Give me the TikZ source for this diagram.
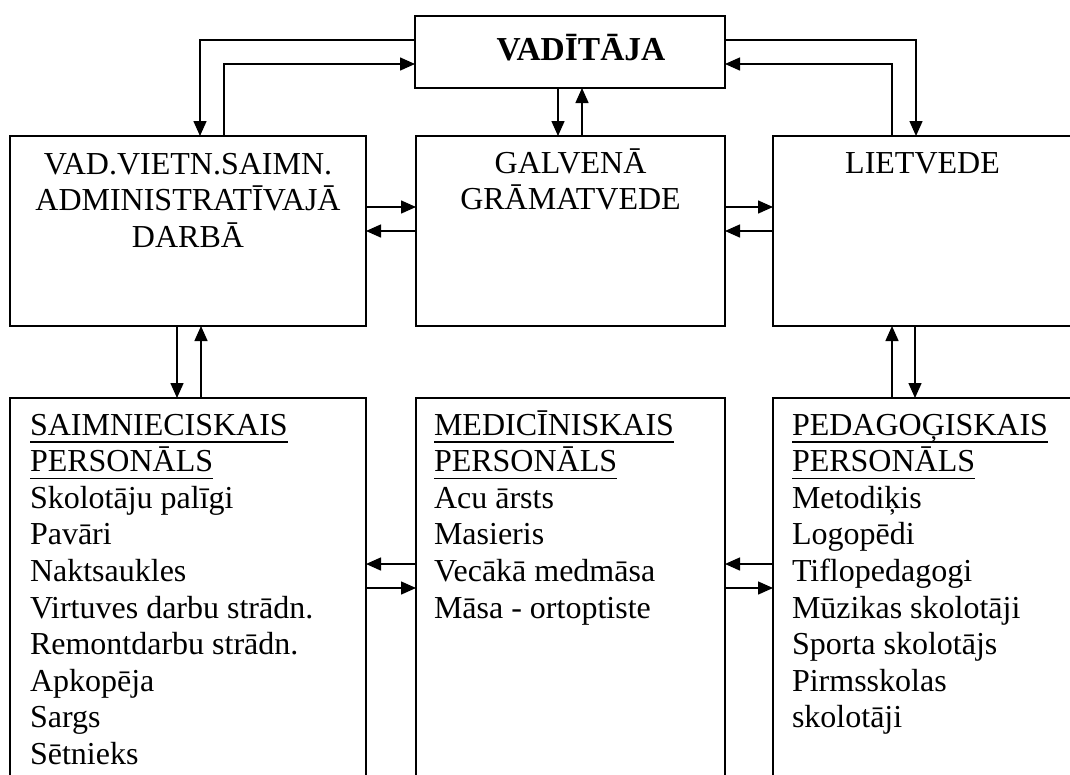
\documentclass[tikz,border=0pt]{standalone}
\usepackage{fontspec}
\setmainfont{Liberation Serif}
\usetikzlibrary{arrows.meta}
\begin{document}
\begin{tikzpicture}[x=1pt,y=-1pt,
  box/.style={draw,line width=1.5pt,rectangle,inner sep=0pt,outer sep=0pt},
  conn/.style={line width=1.5pt,-{Triangle[length=15pt,width=13pt]}},
  txt/.style={inner sep=0pt,outer sep=0pt,font=\fontsize{32}{36.6}\selectfont},
  lbl/.style={txt,anchor=base west},
  ctr/.style={txt,anchor=base},
  uline/.style={line width=1.5pt}]
\useasboundingbox (0,0) rectangle (1070,774);
\clip (0,0) rectangle (1070,774);
% boxes
\node[box,minimum width=310pt,minimum height=72pt] (top) at (570,52) {};
\node[box,minimum width=356pt,minimum height=190pt] (ml) at (188,231) {};
\node[box,minimum width=309pt,minimum height=190pt] (mm) at (570.5,231) {};
\node[box,minimum width=299pt,minimum height=190pt] (mr) at (922.5,231) {};
\node[box,minimum width=356pt,minimum height=402pt] (bl) at (188,599) {};
\node[box,minimum width=309pt,minimum height=402pt] (bm) at (570.5,599) {};
\node[box,minimum width=299pt,minimum height=402pt] (br) at (922.5,599) {};
% top title
\node[ctr,font=\fontsize{33.5}{36.6}\selectfont\bfseries] (ttl) at (581,60) {VADĪTĀJA};
% middle row texts
\node[ctr] (ml-0) at (188,174) {VAD.VIETN.SAIMN.};
\node[ctr] (ml-1) at (188,210.6) {ADMINISTRATĪVAJĀ};
\node[ctr] (ml-2) at (188,247.2) {DARBĀ};
\node[ctr] (mm-0) at (570.5,173) {GALVENĀ};
\node[ctr] (mm-1) at (570.5,209.6) {GRĀMATVEDE};
\node[ctr] (mr-0) at (922.5,173) {LIETVEDE};
% bottom lists
\foreach [count=\i from 0] \t in {SAIMNIECISKAIS,PERSONĀLS,Skolotāju palīgi,Pavāri,Naktsaukles,Virtuves darbu strādn.,Remontdarbu strādn.,Apkopēja,Sargs,Sētnieks}
  {\node[lbl] (bl-\i) at (30,435+36.6*\i) {\t};}
\foreach [count=\i from 0] \t in {MEDICĪNISKAIS,PERSONĀLS,Acu ārsts,Masieris,Vecākā medmāsa,Māsa - ortoptiste}
  {\node[lbl] (bm-\i) at (434,435+36.6*\i) {\t};}
\foreach [count=\i from 0] \t in {PEDAGOĢISKAIS,PERSONĀLS,Metodiķis,Logopēdi,Tiflopedagogi,Mūzikas skolotāji,Sporta skolotājs,Pirmsskolas,skolotāji}
  {\node[lbl] (br-\i) at (792,435+36.6*\i) {\t};}
% underlines
\foreach \n in {bl-0,bl-1,bm-0,bm-1,br-0,br-1}
  {\draw[uline] ([yshift=-7pt]\n.base west) -- ([yshift=-7pt]\n.base east);}
% connectors top
\draw[conn] ([yshift=12pt]top.west) -| ([xshift=12pt]ml.north);
\draw[conn] ([xshift=36pt]ml.north) |- ([yshift=-12pt]top.west);
\draw[conn] ([yshift=12pt]top.east) -| ([xshift=-6.5pt]mr.north);
\draw[conn] ([xshift=-30.5pt]mr.north) |- ([yshift=-12pt]top.east);
\draw[conn] ([xshift=-12pt]top.south) -- ([xshift=-12.5pt]mm.north);
\draw[conn] ([xshift=11.5pt]mm.north) -- ([xshift=12pt]top.south);
% middle row horizontal
\draw[conn] ([yshift=24pt]ml.east) -- ([yshift=24pt]mm.west);
\draw[conn] (mm.west) -- (ml.east);
\draw[conn] ([yshift=24pt]mm.east) -- ([yshift=24pt]mr.west);
\draw[conn] (mr.west) -- (mm.east);
% vertical to bottom
\draw[conn] ([xshift=-11pt]ml.south) -- ([xshift=-11pt]bl.north);
\draw[conn] ([xshift=13pt]bl.north) -- ([xshift=13pt]ml.south);
\draw[conn] ([xshift=-30.5pt]br.north) -- ([xshift=-30.5pt]mr.south);
\draw[conn] ([xshift=-7.5pt]mr.south) -- ([xshift=-7.5pt]br.north);
% bottom row horizontal
\draw[conn] ([yshift=35pt]bm.west) -- ([yshift=35pt]bl.east);
\draw[conn] ([yshift=11pt]bl.east) -- ([yshift=11pt]bm.west);
\draw[conn] ([yshift=35pt]br.west) -- ([yshift=35pt]bm.east);
\draw[conn] ([yshift=11pt]bm.east) -- ([yshift=11pt]br.west);
\end{tikzpicture}
\end{document}
